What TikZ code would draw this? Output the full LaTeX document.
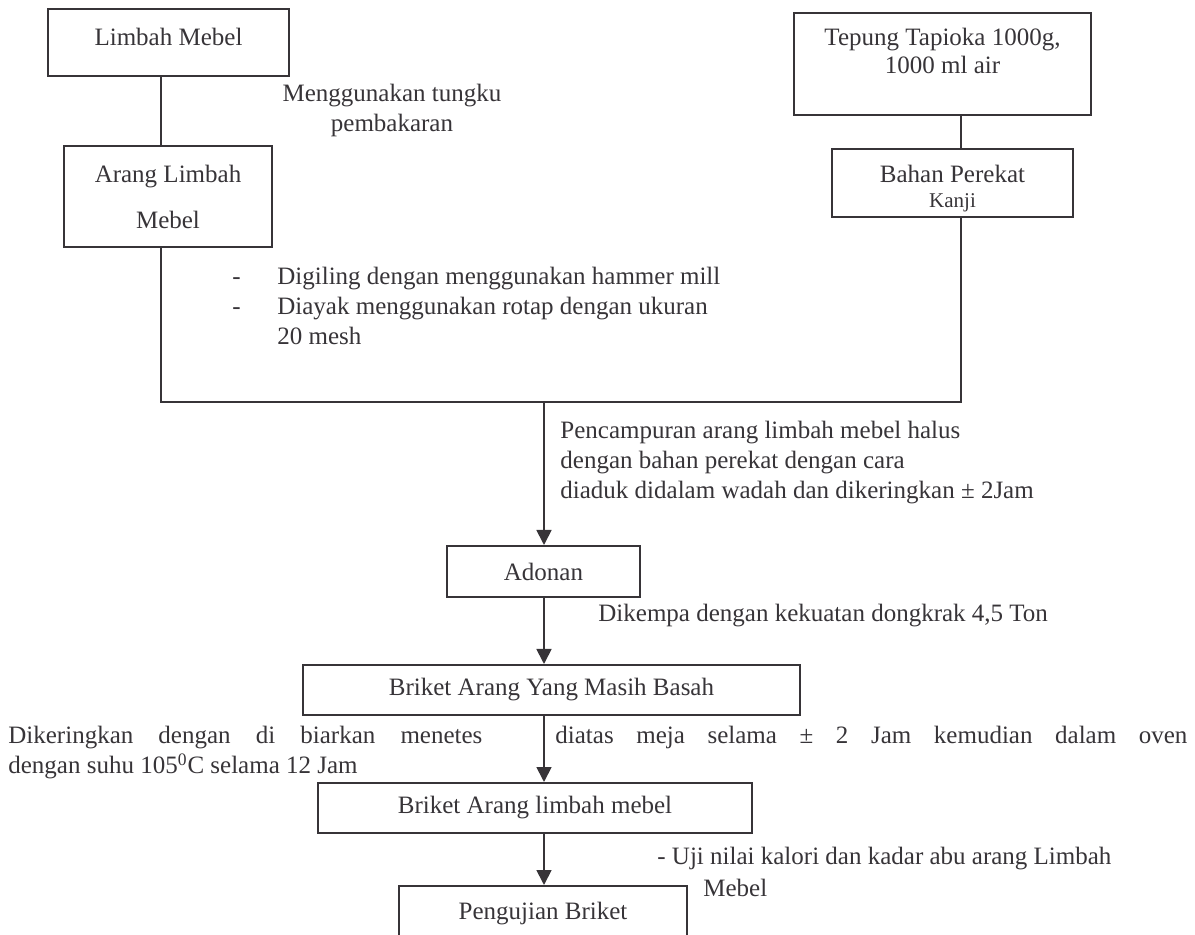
\documentclass[tikz,border=0pt]{standalone}
\usepackage{fontspec}
\setmainfont{Liberation Serif}
\usepackage{xcolor}
\usepackage{tikz}
\usetikzlibrary{arrows.meta, positioning, calc}
\definecolor{ink}{RGB}{55,52,56}

\begin{document}
\begin{tikzpicture}[x=0.5pt, y=-0.5pt,
  every node/.style={font=\fontsize{12.5}{15}\selectfont, text=ink},
  box/.style={draw=ink, line width=1pt, inner sep=0pt},
  note/.style={inner sep=0pt, align=left},
  flow/.style={draw=ink, line width=0.9pt},
  arr/.style={flow, -{Triangle[length=7.5pt, width=7.5pt]}}]
  \path[use as bounding box, clip] (0,0) rectangle (1195,935);
  \coordinate (lft) at (161,0);
  \coordinate (rgt) at (961,0);
  \coordinate (join) at (544,402);

  \node[box, minimum width=120.5pt, minimum height=33.5pt, text depth=6pt] (limbah) at (168.5,42.5) {Limbah Mebel};
  \node[box, minimum width=104pt, minimum height=50.5pt, align=center] (arang) at (168,196.5) {Arang Limbah\\[8pt]Mebel};
  \node[box, minimum width=148.5pt, minimum height=51pt, align=center, text depth=13.5pt] (tepung) at (942.5,64) {Tepung Tapioka 1000g,\\[-1pt]1000 ml air};
  \node[box, minimum width=120.5pt, minimum height=34pt, align=center, text height=26.3pt] (perekat) at (952.5,183) {Bahan Perekat\\[-2.5pt]{\fontsize{10.5}{12}\selectfont Kanji}};
  \node[box, minimum width=96.5pt, minimum height=25.5pt] (adonan) at (543.5,571.5) {Adonan};
  \node[box, minimum width=248.5pt, minimum height=25pt] (basah) at (551.5,690) {Briket Arang Yang Masih Basah};
  \node[box, minimum width=217pt, minimum height=25pt] (briket) at (535,808) {Briket Arang limbah mebel};
  \node[box, minimum width=144pt, minimum height=28pt] (uji) at (543,914) {Pengujian Briket};

  \node[note, align=center, anchor=north] (burn) at (392,84) {Menggunakan tungku\\pembakaran};
  \node[note, anchor=north west] (mill) at (232,267) {\makebox[22.5pt][l]{-}Digiling dengan menggunakan hammer mill\\
    \makebox[22.5pt][l]{-}Diayak menggunakan rotap dengan ukuran\\ \hspace*{22.5pt}20 mesh};
  \node[note, anchor=north west] (mix) at (560,421) {Pencampuran arang limbah mebel halus\\
    dengan bahan perekat dengan cara\\ diaduk didalam wadah dan dikeringkan ± 2Jam};
  \node[note, anchor=base west] (press) at (598,622) {Dikempa dengan kekuatan dongkrak 4,5 Ton};
  \node[note, anchor=north west] (dryl) at (8,726) {\makebox[237pt][s]{Dikeringkan dengan di biarkan menetes}\\
    dengan suhu 105\textsuperscript{0}C selama 12 Jam};
  \node[note, anchor=base west] (dryr) at (555,743) {\makebox[316pt][s]{diatas meja selama ± 2 Jam kemudian dalam oven}};
  \node[note, anchor=north west] (test) at (657,847) {- Uji nilai kalori dan kadar abu arang Limbah\\[1pt]\hspace*{23pt}Mebel};

  \draw[flow] (limbah.south -| lft) -- (arang.north -| lft);
  \draw[flow] (tepung.south -| rgt) -- (perekat.north -| rgt);
  \draw[flow] (arang.south -| lft) -- (lft |- join) -- (rgt |- join) -- (perekat.south -| rgt);
  \draw[arr] (join) -- (adonan.north -| join);
  \draw[arr] (adonan.south -| join) -- (basah.north -| join);
  \draw[arr] (basah.south -| join) -- (briket.north -| join);
  \draw[arr] (briket.south -| join) -- (uji.north -| join);
\end{tikzpicture}
\end{document}
